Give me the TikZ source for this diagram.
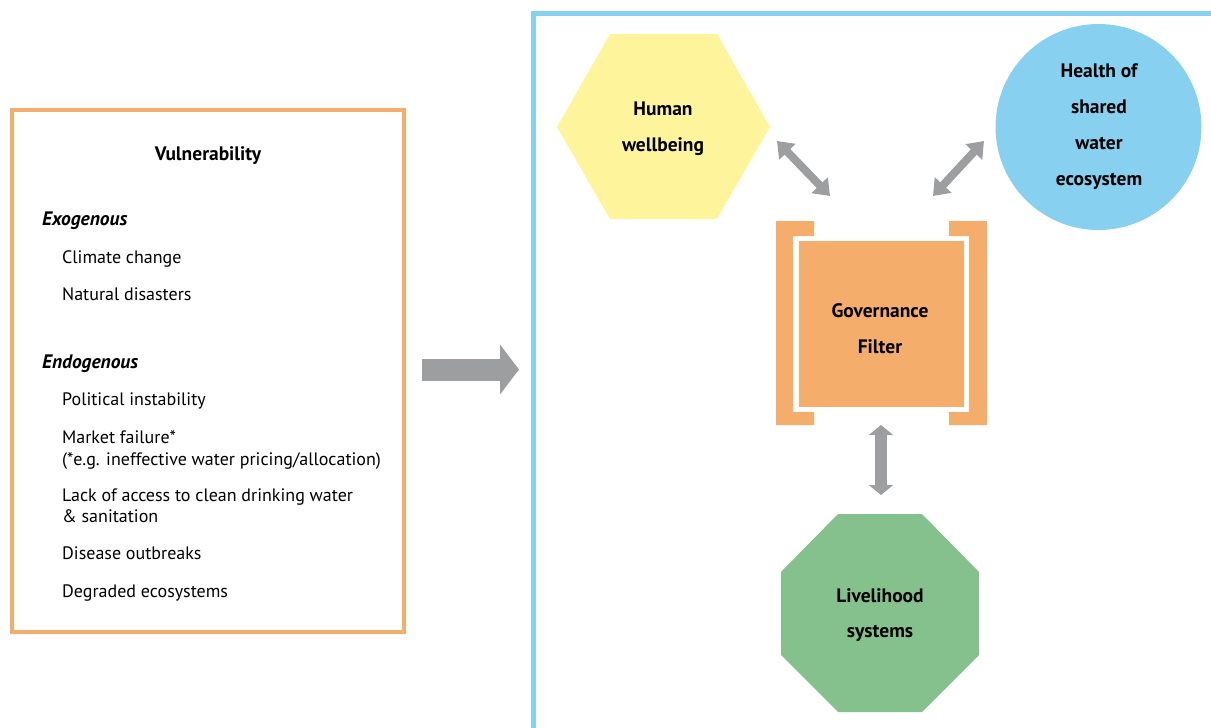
\documentclass[tikz,border=0pt]{standalone}
\usepackage{fontspec}
\setmainfont{PT Sans}
\usetikzlibrary{arrows.meta}
\definecolor{vorange}{HTML}{F5AD6C}
\definecolor{vblue}{HTML}{88D0F0}
\definecolor{vyellow}{HTML}{FEF49C}
\definecolor{vgreen}{HTML}{85C18C}
\definecolor{vgray}{HTML}{9D9EA0}
\tikzset{
  body/.style={anchor=base west, inner sep=0pt, font=\fontsize{18}{21}\selectfont},
  subhead/.style={anchor=base west, inner sep=0pt, font=\fontsize{19.5}{22}\selectfont\bfseries\itshape},
  bold/.style={anchor=base, inner sep=0pt, font=\fontsize{19.5}{22}\selectfont\bfseries},
  bigarrow/.style={draw=vgray, line width=22pt, -{Triangle[width=49pt,length=19pt]}},
}
\begin{document}
\begin{tikzpicture}[x=1pt,y=-1pt]
\useasboundingbox (0,0) rectangle (1211,728);
% left vulnerability box
\node[draw=vorange, line width=4pt, minimum width=392pt, minimum height=522pt, inner sep=0pt] (vbox) at (208,371) {};
\node[bold] (vt) at (208,160) {Vulnerability};
\node[subhead] (exo) at (42,225) {Exogenous};
\node[body] (t1) at (62,263) {Climate change};
\node[body] (t2) at (62,300) {Natural disasters};
\node[subhead] (endo) at (42,368) {Endogenous};
\node[body] (t3) at (62,405) {Political instability};
\node[body] (t4) at (62,443) {Market failure*};
\node[body] (t4b) at (62,465) {(*e.g. ineffective water pricing/allocation)};
\node[body] (t5) at (62,501) {Lack of access to clean drinking water};
\node[body] (t5b) at (62,522) {\& sanitation};
\node[body] (t6) at (62,559) {Disease outbreaks};
\node[body] (t7) at (62,597) {Degraded ecosystems};
% big arrow
\coordinate (ba1) at (422,369.5);
\coordinate (ba2) at (519,369.5);
\draw[bigarrow] (ba1) -- (ba2);
% blue frame
\draw[draw=vblue, line width=5pt] (533,740) -- (533,13.5) -- (1225,13.5);
% hexagon
\fill[vyellow] (557,127) -- (610,34) -- (717,34) -- (770,127) -- (717,219) -- (610,219) -- cycle;
\coordinate (hex) at (663.5,127);
\node[bold] (h1) at (663,115) {Human};
\node[bold] (h2) at (663,151) {wellbeing};
% circle
\node[circle, fill=vblue, minimum size=206pt, inner sep=0pt] (circ) at (1098.5,127) {};
\node[bold] (c1) at (1099,77) {Health of};
\node[bold] (c2) at (1099,113) {shared};
\node[bold] (c3) at (1099,149) {water};
\node[bold] (c4) at (1099,185) {ecosystem};
% governance filter
\fill[vorange] (776,221) -- (814,221) -- (814,236) -- (793,236) -- (793,412) -- (814,412) -- (814,425) -- (776,425) -- cycle;
\fill[vorange] (987,221) -- (949,221) -- (949,236) -- (969,236) -- (969,412) -- (949,412) -- (949,425) -- (987,425) -- cycle;
\node[fill=vorange, minimum width=165pt, minimum height=166pt, inner sep=0pt] (gov) at (881.5,324) {};
\node[bold] (g1) at (880,317) {Governance};
\node[bold] (g2) at (880,353) {Filter};
% octagon
\fill[vgreen] (838,514) -- (922,514) -- (979,572) -- (979,655) -- (922,712) -- (838,712) -- (781,655) -- (781,572) -- cycle;
\coordinate (oct) at (880,613);
\node[bold] (o1) at (880,602) {Livelihood};
\node[bold] (o2) at (880,637) {systems};
% double arrows
\coordinate (a1s) at (777,141);
\coordinate (a1e) at (830,196);
\coordinate (a2s) at (984,141);
\coordinate (a2e) at (933,196);
\coordinate (a3s) at (881,425);
\coordinate (a3e) at (881,495);
\draw[draw=vgray, line width=8pt, {Triangle[width=22pt,length=15pt]}-{Triangle[width=22pt,length=15pt]}] (a1s) -- (a1e);
\draw[draw=vgray, line width=8pt, {Triangle[width=22pt,length=15pt]}-{Triangle[width=22pt,length=15pt]}] (a2s) -- (a2e);
\draw[draw=vgray, line width=12pt, {Triangle[width=24pt,length=10pt]}-{Triangle[width=24pt,length=10pt]}] (a3s) -- (a3e);
\end{tikzpicture}
\end{document}
